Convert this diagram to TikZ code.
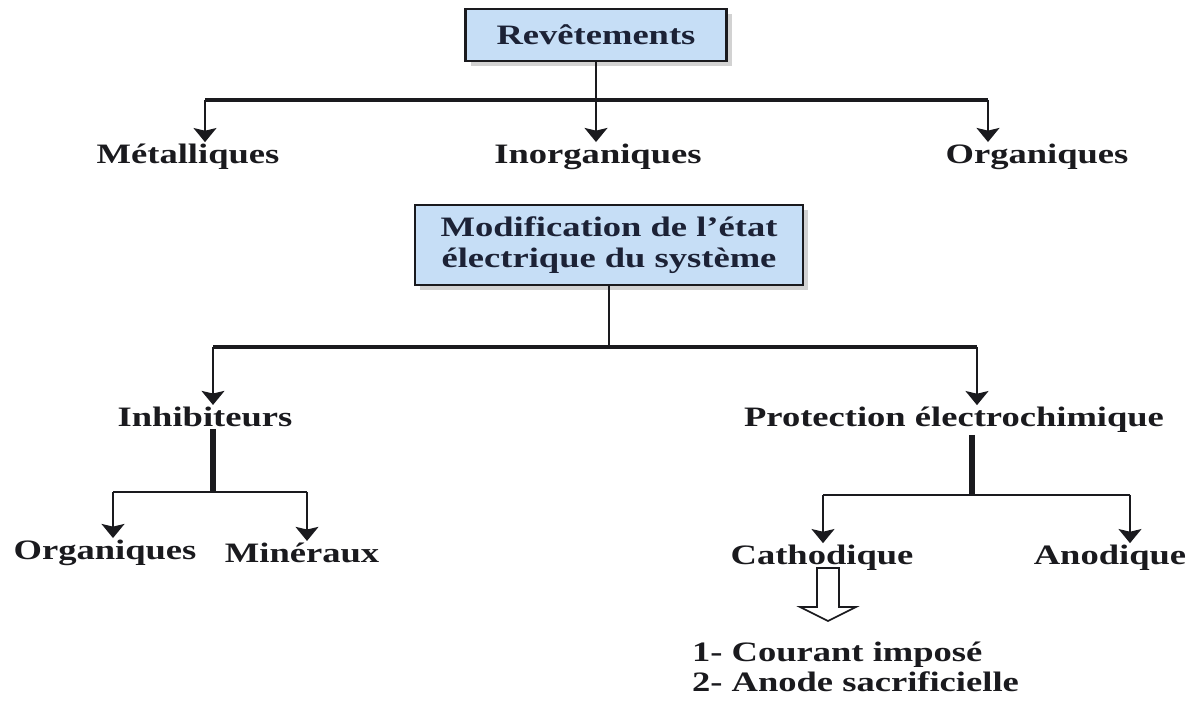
\documentclass[tikz,border=0pt]{standalone}
\usepackage{fontspec}
\setmainfont{Liberation Serif}[FakeStretch=1.3]
\usepackage{tikz}
\usetikzlibrary{arrows.meta, shadows}
\definecolor{bleuclair}{HTML}{C6DEF6}
\definecolor{encre}{HTML}{1A1A1E}
\definecolor{marine}{HTML}{1C2236}
\tikzset{
  boite/.style={draw=encre, line width=1.6pt, fill=bleuclair, align=center, text=marine,
    drop shadow={shadow xshift=3pt, shadow yshift=-3pt, fill=gray!70}},
  lab/.style={inner sep=1pt, text=encre},
  fil/.style={draw=encre, line width=1.3pt},
  bus/.style={draw=encre, line width=2.4pt},
  pilier/.style={draw=encre, line width=3.2pt},
  fleche/.style={fil, -{Stealth[length=8pt, width=13pt, inset=1.5pt]}},
}

\begin{document}
\begin{tikzpicture}[x=0.02cm, y=-0.02cm, font=\fontsize{16}{17}\selectfont\bfseries]
\useasboundingbox (0,0) rectangle (1194,702);
% revetements
\node[boite, minimum width=5.22cm, minimum height=1.04cm] (rev) at (596,35) {Revêtements};
\node[lab] (met) at (188,157) {Métalliques};
\node[lab] (inorg) at (598,157) {Inorganiques};
\node[lab] (org) at (1037,157) {Organiques};
\coordinate (rL) at (205,100);
\coordinate (rR) at (988,100);
\draw[bus] (rL) -- (rR);
\draw[fleche] (rev.south) -- (rev.south |- inorg.north);
\draw[fleche] (rL) -- (rL |- met.north);
\draw[fleche] (rR) -- (rR |- org.north);
% etat electrique
\node[boite, minimum width=7.76cm, minimum height=1.6cm, font=\fontsize{16}{18}\selectfont\bfseries] (mod) at (609,245) {Modification de l’état\\électrique du système};
\node[lab] (inh) at (205,417) {Inhibiteurs};
\node[lab] (prot) at (954,420) {Protection électrochimique};
\coordinate (mL) at (213,347);
\coordinate (mR) at (977,347);
\draw[bus] (mL) -- (mR);
\draw[fil] (mod.south) -- (mod.south |- mL);
\draw[fleche] (mL) -- (mL |- inh.north);
\draw[fleche] (mR) -- (mR |- prot.north);
% inhibiteurs
\node[lab] (orgi) at (105,553) {Organiques};
\node[lab] (min) at (302,553) {Minéraux};
\coordinate (iM) at (213,492);
\coordinate (iL) at (113,492);
\coordinate (iR) at (307,492);
\draw[pilier] (iM |- inh.south) -- (iM);
\draw[fil] (iL) -- (iR);
\draw[fleche] (iL) -- (iL |- orgi.north);
\draw[fleche] (iR) -- (iR |- min.north);
% protection electrochimique
\node[lab] (cath) at (822,558) {Cathodique};
\node[lab] (ano) at (1110,558) {Anodique};
\coordinate (pM) at (972,495);
\coordinate (pL) at (823,495);
\coordinate (pR) at (1130,495);
\draw[pilier] (pM |- prot.south) -- (pM);
\draw[fil] (pL) -- (pR);
\draw[fleche] (pL) -- (pL |- cath.north);
\draw[fleche] (pR) -- (pR |- ano.north);
% fleche creuse
\coordinate (fc) at (828,568);
\draw[fil, line width=1pt, fill=white] (fc) ++(-11,0) -- ++(0,39) -- ++(-17,0) -- ++(28,14) -- ++(28,-14) -- ++(-17,0) -- ++(0,-39) -- cycle;
\node[lab, anchor=west, align=left] (liste) at (690,667) {1- Courant imposé\\2- Anode sacrificielle};
\end{tikzpicture}
\end{document}
